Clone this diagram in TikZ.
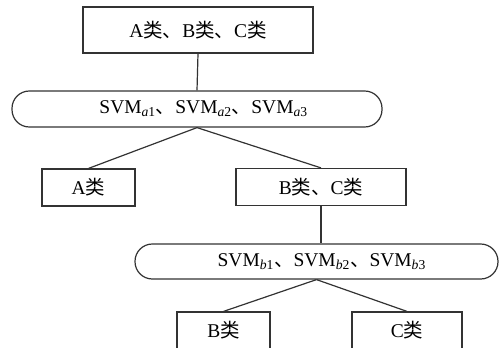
\documentclass[tikz,border=0pt]{standalone}
\usepackage{fontspec}
\setmainfont{Liberation Serif}
\newfontfamily\cjk{Noto Sans CJK SC}
\definecolor{linec}{HTML}{333333}
\newcommand{\lei}{{\cjk 类}}
\newcommand{\dun}{{\cjk 、}}
\begin{document}
\begin{tikzpicture}[x=0.75pt,y=-0.75pt,
  every node/.style={font=\fontsize{14.6}{17}\selectfont, text=black},
  box/.style={draw=linec, line width=0.9pt, fill=white, inner sep=0pt, minimum height=27.75pt},
  pill/.style={draw=linec, line width=0.9pt, fill=white, inner sep=0pt, rounded corners=13pt},
  conn/.style={draw=linec, line width=0.9pt}]
\useasboundingbox (0,0) rectangle (499,347);
\clip (0,0) rectangle (499,347);
\node[box, minimum width=172.5pt, minimum height=34.5pt] (top) at (198,30) {A\lei\dun B\lei\dun C\lei};
\node[pill, minimum width=277.5pt, minimum height=27pt] (svma) at (197,109)
  {\hspace*{10pt}SVM\textsubscript{\textit{a}1}\dun SVM\textsubscript{\textit{a}2}\dun SVM\textsubscript{\textit{a}3}};
\node[box, minimum width=69.75pt] (A) at (88.5,187.5) {A\lei};
\node[box, minimum width=127.5pt] (BC) at (321,187) {B\lei\dun C\lei};
\node[pill, minimum width=272.25pt, minimum height=26.25pt] (svmb) at (316.5,261.5)
  {\hspace*{8pt}SVM\textsubscript{\textit{b}1}\dun SVM\textsubscript{\textit{b}2}\dun SVM\textsubscript{\textit{b}3}};
\node[box, minimum width=69.75pt] (B) at (223.5,330.5) {B\lei};
\node[box, minimum width=82.5pt] (C) at (407,330.5) {C\lei};
\draw[conn] (top.south) -- (svma.north);
\draw[conn] (svma.south) -- (A.north);
\draw[conn] (svma.south) -- (BC.north);
\draw[conn] (BC.south) -- (BC.south |- svmb.north);
\draw[conn] (svmb.south) -- (B.north);
\draw[conn] (svmb.south) -- (C.north);
\end{tikzpicture}
\end{document}
